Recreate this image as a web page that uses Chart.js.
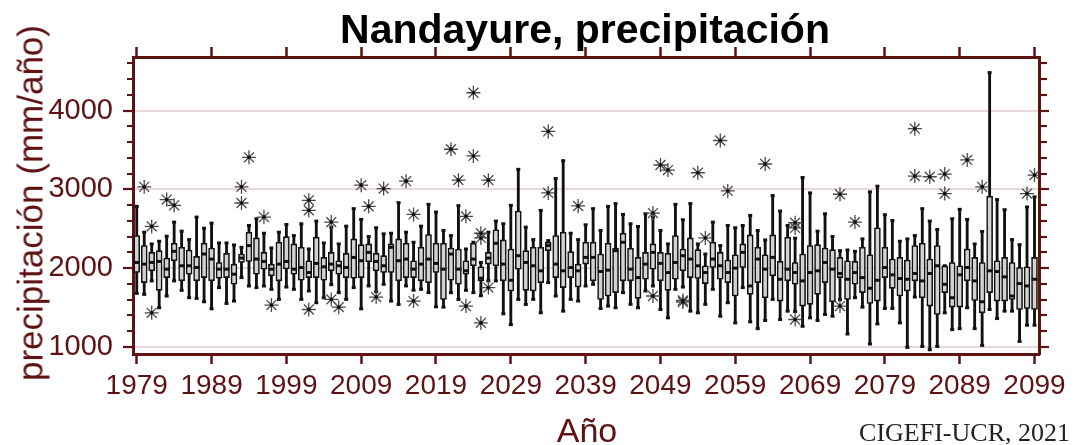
<!DOCTYPE html>
<html lang="es">
<head>
<meta charset="utf-8">
<title>Nandayure, precipitación</title>
<script src="https://cdn.jsdelivr.net/npm/chart.js@4.4.1/dist/chart.umd.min.js"></script>
<style>
  html, body { margin: 0; padding: 0; background: #fff; }
  #wrap { position: relative; width: 1076px; height: 445px; overflow: hidden; background: #fff; }
  #chart { position: absolute; left: 0; top: 0; }
  .lbl { position: absolute; white-space: nowrap; line-height: 1; font-family: "Liberation Sans", Arial, sans-serif; }
  #title { left: 585px; top: 9px; transform: translateX(-50%); font-size: 41px; font-weight: bold; color: #000; }
  #xtitle { left: 587px; top: 413px; transform: translateX(-50%); font-size: 34px; color: #5e1214; }
  #ytitle { left: 30px; top: 203px; transform: translate(-50%, -50%) rotate(-90deg); font-size: 35px; color: #5e1214; }
  #credit { right: 6px; top: 420px; font-family: "Liberation Serif", "Times New Roman", serif; font-size: 26px; color: #222; }
</style>
</head>
<body>
<div id="wrap">
  <canvas id="chart" width="1076" height="445"></canvas>
  <div class="lbl" id="title">Nandayure, precipitación</div>
  <div class="lbl" id="ytitle">precipitación (mm/año)</div>
  <div class="lbl" id="xtitle">Año</div>
  <div class="lbl" id="credit">CIGEFI-UCR, 2021</div>
</div>
<script>
// ─── Data (mm/año), one box per year 1979–2099 ───
const firstYear = 1979;
const lastYear  = 2099;
const years = Array.from({ length: lastYear - firstYear + 1 }, (_, i) => firstYear + i);

const xTickYears = [1979, 1989, 1999, 2009, 2019, 2029, 2039, 2049, 2059, 2069, 2079, 2089, 2099];
const yLabelTicks = [1000, 2000, 3000, 4000];

const whiskerLow = [
  1680, 1667, 1838, 1497, 1646, 1838, 1718, 1625, 1616, 1573,
  1484, 1753, 1552, 1582, 1880, 1773, 1753, 1773, 1731, 1603,
  1760, 1731, 1603, 1710, 1561, 1624, 1790, 1689, 1603, 1753,
  1484, 1774, 1700, 1795, 1582, 1539, 1774, 1720, 1731, 1689,
  1509, 1505, 1689, 1603, 1718, 1689, 1650, 1838, 1838, 1420,
  1283, 1603, 1539, 1603, 1433, 1816, 1646, 1454, 1603, 1582,
  1773, 1795, 1488, 1518, 1497, 1689, 1540, 1497, 1710, 1773,
  1475, 1369, 1731, 1760, 1454, 1433, 1540, 1731, 1390, 1561,
  1305, 1753, 1318, 1232, 1335, 1603, 1348, 1454, 1450, 1262,
  1369, 1335, 1412, 1390, 1600, 1164, 1625, 1505, 1037, 1292,
  1488, 1488, 1305,  994, 1633, 1006,  964, 1006, 1433, 1220,
  1232, 1497, 1232, 1019, 1475, 1360, 1454, 1454, 1070, 1275,
  1275
];
const boxLow = [
  1944, 1816, 1966, 1718, 1880, 2094, 1838, 1923, 1838, 1880,
  1838, 1872, 1880, 1795, 2072, 2085, 1923, 1987, 1902, 1838,
  1990, 1923, 1846, 1880, 1880, 1846, 1966, 1923, 1880, 1872,
  1880, 2081, 1966, 1944, 1944, 1838, 1880, 1880, 1838, 1816,
  1944, 1603, 1846, 1795, 1923, 2030, 1838, 2051, 2030, 1838,
  1710, 1987, 1718, 1710, 1816, 2222, 1880, 1753, 1880, 1761,
  2051, 1838, 1603, 1646, 1689, 1838, 1838, 1616, 1859, 1987,
  1838, 1718, 1859, 1966, 1880, 1868, 1804, 2008, 1859, 1816,
  1646, 2008, 1667, 1816, 1625, 1902, 1582, 1838, 1795, 1518,
  1540, 1667, 1816, 1573, 1880, 1603, 1795, 1689, 1552, 1582,
  1880, 1744, 1646, 1710, 1838, 1625, 1518, 1411, 1689, 1505,
  1505, 1838, 1590, 1433, 1689, 1582, 1582, 1603, 1475, 1488,
  1475
];
const median = [
  2072, 2051, 2072, 2085, 1987, 2213, 2030, 2030, 2008, 2179,
  2115, 1987, 1987, 1923, 2128, 2286, 2115, 2085, 1987, 2051,
  2085, 1987, 2008, 1944, 2060, 2017, 2051, 2030, 2008, 2136,
  2094, 2200, 2085, 2030, 2264, 2094, 2115, 1987, 2051, 2115,
  2060, 1987, 2179, 1987, 1966, 2115, 1872, 2128, 2315, 2051,
  1846, 2158, 2072, 2030, 1966, 2286, 2051, 1966, 2008, 1966,
  2136, 2136, 1957, 1974, 2222, 2328, 1987, 1880, 2051, 2200,
  2060, 1944, 2072, 2158, 2115, 2030, 1944, 2115, 2030, 1944,
  2000, 2200, 1774, 2115, 1987, 2136, 1859, 1987, 1944, 1838,
  1944, 1966, 2072, 1987, 1932, 1859, 1944, 1880, 1744, 1846,
  2008, 1915, 1868, 1859, 1932, 1838, 1932, 2030, 1795, 1624,
  1915, 2008, 1838, 1573, 1966, 1957, 1889, 1646, 1804, 1774,
  1859
];
const boxHigh = [
  2413, 2286, 2200, 2222, 2128, 2315, 2264, 2230, 2149, 2315,
  2256, 2072, 2187, 2051, 2179, 2456, 2384, 2200, 2051, 2328,
  2400, 2307, 2264, 2094, 2392, 2136, 2200, 2094, 2187, 2371,
  2298, 2307, 2187, 2158, 2307, 2371, 2315, 2094, 2264, 2426,
  2315, 2315, 2256, 2243, 2094, 2315, 2017, 2200, 2486, 2358,
  2243, 2725, 2222, 2264, 2264, 2328, 2413, 2456, 2209, 2051,
  2328, 2328, 2179, 2315, 2256, 2443, 2252, 2136, 2200, 2307,
  2200, 2187, 2413, 2243, 2384, 2234, 2030, 2328, 2200, 2102,
  2170, 2307, 2422, 2264, 2170, 2422, 2085, 2392, 2072, 2179,
  2286, 2298, 2256, 2234, 2136, 2094, 2085, 2264, 2170, 2512,
  2264, 2115, 2136, 2102, 2286, 2315, 2115, 2286, 2030, 2072,
  2030, 2243, 2136, 2072, 2912, 2094, 2136, 2072, 2008, 2017,
  2136
];
const whiskerHigh = [
  2784, 2456, 2307, 2341, 2405, 2584, 2469, 2362, 2648, 2507,
  2571, 2320, 2320, 2294, 2264, 2541, 2627, 2443, 2256, 2456,
  2554, 2413, 2563, 2243, 2597, 2320, 2520, 2307, 2533, 2755,
  2618, 2401, 2512, 2435, 2443, 2831, 2456, 2328, 2533, 2810,
  2712, 2478, 2413, 2793, 2243, 2328, 2072, 2456, 2597, 2563,
  2797, 3254, 2520, 2362, 2733, 2350, 3138, 3364, 2443, 2362,
  2550, 2755, 2478, 2784, 2819, 2682, 2563, 2529, 2690, 2648,
  2478, 2307, 2810, 2614, 2819, 2307, 2179, 2584, 2286, 2541,
  2512, 2541, 2669, 2478, 2358, 2921, 2725, 2541, 2380, 3151,
  2955, 2469, 2690, 2401, 2222, 2230, 2213, 2371, 2968, 3040,
  2678, 2605, 2341, 2371, 2413, 2755, 2597, 2490, 2030, 2627,
  2746, 2618, 2307, 2465, 4482, 2870, 2742, 2362, 2298, 2776,
  2904
];

// outliers (asterisks)
const outlierYears = [
  1980, 1981, 1981, 1983, 1984, 1993, 1993, 1994, 1996, 1997,
  2002, 2002, 2002, 2005, 2005, 2006, 2009, 2010, 2011, 2012,
  2015, 2016, 2016, 2021, 2022, 2023, 2023, 2024, 2024, 2025,
  2025, 2025, 2026, 2026, 2034, 2034, 2038, 2048, 2048, 2049,
  2050, 2052, 2052, 2054, 2055, 2057, 2058, 2063, 2067, 2067,
  2067, 2073, 2073, 2075, 2083, 2083, 2085, 2087, 2087, 2090,
  2092, 2098, 2099
];
const outlierValues = [
  3032, 2530, 1433, 2870, 2797, 3032, 2827, 3407, 2648, 1531,
  2861, 2733, 1475, 2584, 1603, 1505, 3053, 2784, 1633, 3010,
  3104, 2682, 1582, 3509, 3117, 2657, 1518, 4226, 3424, 2443,
  2383, 1305, 3117, 1753, 3735, 2955, 2789, 2699, 1646, 3309,
  3245, 1590, 1570, 3211, 2383, 3620, 2980, 3322, 2576, 2510,
  1348, 2938, 1518, 2584, 3770, 3168, 3160, 3194, 2946, 3373,
  3032, 2946, 3181
];

// ─── Style ───
const MAROON = '#5e1214';
const PINK   = '#e9d8da';
const INK    = '#111111';
const FONT   = '"Liberation Sans", Arial, sans-serif';

const xMin = 1978.5, xMax = 2099.6;
const yMin = 910,    yMax = 4680;

// minor tick marks every 200 mm
const yTickMarks = [];
for (let v = 1000; v <= 4600; v += 200) yTickMarks.push(v);

const isMajor = v => yLabelTicks.includes(v);

// ─── Datasets ───
const whiskers = years.map((yr, i) => ({ x: yr, y: [whiskerLow[i], whiskerHigh[i]] }));
const boxes    = years.map((yr, i) => ({ x: yr, y: [boxLow[i], boxHigh[i]] }));
const medians  = years.map((yr, i) => ({ x: yr, y: median[i] }));
const caps     = years.flatMap((yr, i) => [{ x: yr, y: whiskerLow[i] }, { x: yr, y: whiskerHigh[i] }]);
const outliers = outlierYears.map((yr, i) => ({ x: yr, y: outlierValues[i] }));

function xAxis(position, showLabels, height) {
  return {
    type: 'linear',
    position,
    min: xMin,
    max: xMax,
    offset: false,
    afterBuildTicks: s => { s.ticks = xTickYears.map(v => ({ value: v })); },
    afterFit: s => { s.height = height; },
    ticks: {
      display: showLabels,
      color: MAROON,
      font: { family: FONT, size: 28 },
      padding: 5,
      maxRotation: 0,
      autoSkip: false,
      callback: v => String(v)
    },
    grid: {
      offset: false,
      drawOnChartArea: false,
      drawTicks: true,
      tickLength: 10,
      tickColor: MAROON,
      tickWidth: 2.5
    },
    border: { display: true, color: MAROON, width: 3 }
  };
}

function yAxis(position, showLabels, width) {
  return {
    type: 'linear',
    position,
    min: yMin,
    max: yMax,
    afterBuildTicks: s => { s.ticks = yTickMarks.map(v => ({ value: v })); },
    afterFit: s => { s.width = width; },
    ticks: {
      display: showLabels,
      color: MAROON,
      font: { family: FONT, size: 29 },
      padding: 10,
      autoSkip: false,
      callback: v => (isMajor(v) ? String(v) : '')
    },
    grid: {
      drawOnChartArea: showLabels,
      color: ctx => (ctx.tick && isMajor(ctx.tick.value) ? PINK : 'rgba(0,0,0,0)'),
      lineWidth: 2,
      tickLength: 10,
      tickColor: MAROON,
      tickWidth: 2.2,
      // shorter minor ticks: dash keeps only the part next to the frame
      tickBorderDash: ctx => {
        if (ctx.tick && isMajor(ctx.tick.value)) return [];
        return position === 'left' ? [0, 4, 20, 0] : [6, 20];
      }
    },
    border: { display: true, color: MAROON, width: 3 }
  };
}

new Chart(document.getElementById('chart'), {
  type: 'bar',
  data: {
    datasets: [
      {
        type: 'bar', label: 'whisker', data: whiskers, grouped: false,
        barThickness: 2.2, backgroundColor: INK, borderWidth: 0, order: 5
      },
      {
        type: 'bar', label: 'box', data: boxes, grouped: false,
        barThickness: 6, backgroundColor: '#d2d2d2', borderColor: INK,
        borderWidth: 1.6, borderSkipped: false, order: 4
      },
      {
        type: 'scatter', label: 'cap', data: caps,
        pointStyle: 'line', radius: 2, borderWidth: 3, borderColor: INK, order: 3
      },
      {
        type: 'scatter', label: 'median', data: medians,
        pointStyle: 'line', radius: 2.8, borderWidth: 3, borderColor: INK, order: 2
      },
      {
        type: 'scatter', label: 'outlier', data: outliers,
        pointStyle: 'star', radius: 7, borderWidth: 1.3, borderColor: '#4a4a4a',
        backgroundColor: 'rgba(0,0,0,0)', order: 1
      },
      {
        type: 'scatter', label: 'outlier centre', data: outliers,
        pointStyle: 'circle', radius: 1.8, borderWidth: 0, backgroundColor: INK, order: 0
      }
    ]
  },
  options: {
    responsive: false,
    animation: false,
    devicePixelRatio: 1,
    layout: { padding: 0 },
    plugins: { legend: { display: false }, tooltip: { enabled: false }, title: { display: false } },
    scales: {
      x:  xAxis('bottom', true, 91),
      x2: xAxis('top', false, 57),
      y:  yAxis('left', true, 133),
      y2: yAxis('right', false, 37)
    }
  }
});
</script>
</body>
</html>
